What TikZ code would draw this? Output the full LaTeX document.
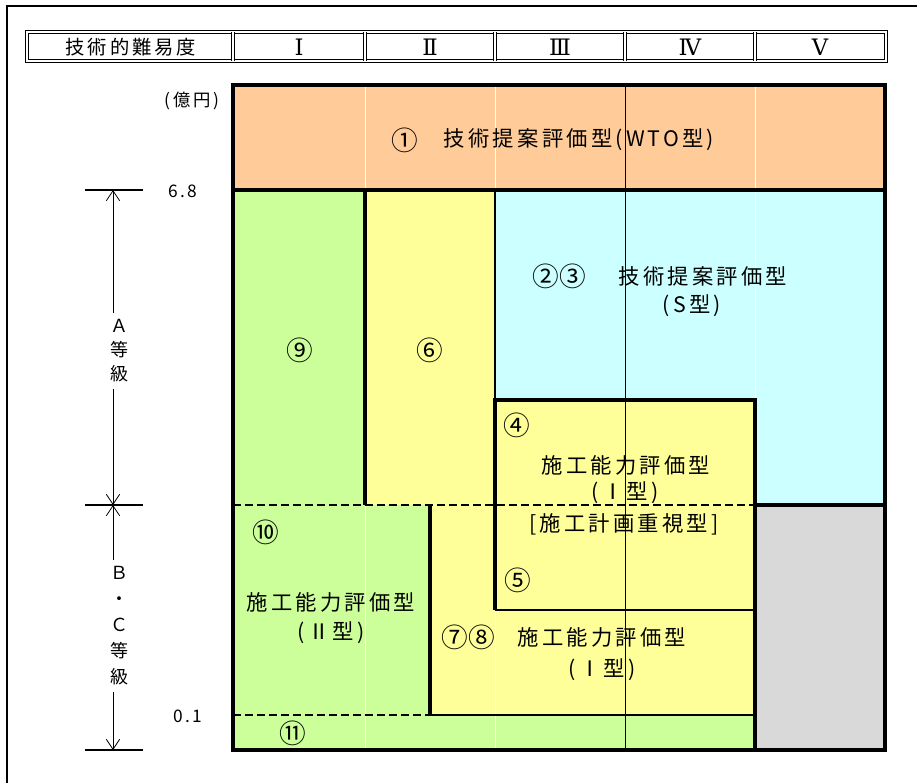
\documentclass[tikz,border=0pt]{standalone}
\usepackage{fontspec}
\newfontfamily\jp[LetterSpace=15]{Noto Sans CJK JP}
\newfontfamily\jpcirc{Noto Sans CJK JP}
\newfontfamily\hdrserif{DejaVu Serif}
\usetikzlibrary{arrows.meta}
\definecolor{wtofill}{HTML}{FFCC99}
\definecolor{grnfill}{HTML}{CCFF99}
\definecolor{ylwfill}{HTML}{FFFF99}
\definecolor{cynfill}{HTML}{CCFFFF}
\definecolor{gryfill}{HTML}{D9D9D9}
\begin{document}
\begin{tikzpicture}[x=0.75pt,y=-0.75pt,line join=miter,
		bdr/.style={line width=2.3pt},
		midline/.style={line width=1.6pt},
		cut/.style={line width=1.6pt,dash pattern=on 6pt off 3pt},
		hdr/.style={draw,double,line width=0.8pt,double distance=0.9pt},
		dim/.style={line width=0.6pt,-{Straight Barb[length=7.5pt,width=10pt,line width=0.6pt]}},
		lbl/.style={font=\jp\fontsize{16}{19}\selectfont,inner sep=1pt,align=center},
		circ/.style={font=\jpcirc\fontsize{20}{22}\selectfont,inner sep=1pt},
		side/.style={font=\jp\fontsize{13}{16}\selectfont,inner sep=1pt,align=center},
		roman/.style={font=\hdrserif\fontsize{17}{19}\selectfont,inner sep=1pt}]
	\useasboundingbox (0,0) rectangle (917,783);
	\draw[line width=0.8pt] (7,783) -- (7,6) -- (917,6);
	% header row
	\draw[hdr] (27,32) rectangle (886,61);
	\foreach \x in {233,365,495,625,755}
		\draw[hdr] (\x,32) -- (\x,61);
	\node[font=\jp\fontsize{14.5}{17}\selectfont] (hdrtitle) at (131,47) {技術的難易度};
	\node[roman] (hdr1) at (299,47) {Ⅰ};
	\node[roman] (hdr2) at (430,47) {Ⅱ};
	\node[roman] (hdr3) at (560,47) {Ⅲ};
	\node[roman] (hdr4) at (690,47) {Ⅳ};
	\node[roman] (hdr5) at (820,47) {Ⅴ};
	% areas
	\fill[wtofill] (233,85) rectangle (885,190);
	\fill[grnfill] (233,190) rectangle (365,505);
	\fill[ylwfill] (365,190) rectangle (495,505);
	\fill[cynfill] (495,190) rectangle (885,505);
	\fill[ylwfill] (495,400) rectangle (755,610);
	\fill[gryfill] (755,505) rectangle (885,750);
	\fill[grnfill] (233,505) rectangle (430,750);
	\fill[ylwfill] (430,505) rectangle (755,715);
	\fill[grnfill] (430,715) rectangle (755,750);
	\foreach \x in {365,495,755}
		\draw[white,line width=0.6pt] (\x,85) -- (\x,750);
	\draw[line width=0.5pt] (625,85) -- (625,750);
	% labels
	\node[circ] (no1) at (405,140) {①};
	\node[lbl] (wto) at (579,140) {技術提案評価型(WTO型)};
	\node[circ] (no23) at (559,276) {②③};
	\node[lbl] (stype) at (703,276) {技術提案評価型};
	\node[lbl] (stypeb) at (692,306) {(S型)};
	\node[circ] (no9) at (300,350) {⑨};
	\node[circ] (no6) at (430,350) {⑥};
	\node[circ] (no4) at (517,425) {④};
	\node[lbl] (itype) at (626,465) {施工能力評価型};
	\node[lbl] (itypeb) at (625,493) {(\,Ⅰ型)};
	\node[lbl] (plan) at (624,524) {[施工計画重視型]};
	\node[circ] (no5) at (518,580) {⑤};
	\node[circ] (no10) at (266,532) {⑩};
	\node[lbl] (iitype) at (331,602) {施工能力評価型};
	\node[lbl] (iitypeb) at (331,633) {(\,Ⅱ型)};
	\node[circ] (no78) at (468,637) {⑦⑧};
	\node[lbl] (ltype) at (602,637) {施工能力評価型};
	\node[lbl] (ltypeb) at (602,670) {(\,Ⅰ型)};
	\node[circ] (no11) at (293,733) {⑪};
	% borders
	\draw[bdr] (233,85) rectangle (885,750);
	\draw[bdr] (233,190) -- (885,190);
	\draw[bdr] (365,190) -- (365,505);
	\draw[midline] (495,190) -- (495,400);
	\draw[bdr] (495,610) -- (495,400) -- (755,400) -- (755,750);
	\draw[midline] (495,610) -- (755,610);
	\draw[bdr] (755,505) -- (885,505);
	\draw[bdr] (430,505) -- (430,715);
	\draw[midline] (430,715) -- (755,715);
	\draw[cut] (233,505) -- (755,505);
	\draw[cut] (233,715) -- (430,715);
	% amounts and grades
	\node[side] (unit) at (192,101) {(億円)};
	\node[side] (v68) at (183,191) {6.8};
	\node[side] (v01) at (188,716) {0.1};
	\foreach \y in {190,505,750}
		\draw[midline] (85,\y) -- (143,\y);
	\coordinate (d68) at (113,190);
	\coordinate (dab) at (113,505);
	\coordinate (d01) at (113,750);
	\node[side,font=\jp\fontsize{13.5}{18}\selectfont,inner sep=5pt] (grA) at (119,351) {Ａ\\等\\級};
	\node[side,font=\jp\fontsize{13.5}{19.5}\selectfont,inner sep=5pt] (grBC) at (119,626) {Ｂ\\・\\Ｃ\\等\\級};
	\draw[dim] (grA.north -| d68) -- (d68);
	\draw[dim] (grA.south -| d68) -- (dab);
	\draw[dim] (grBC.north -| dab) -- (dab);
	\draw[dim] (grBC.south -| d01) -- (d01);
\end{tikzpicture}
\end{document}
